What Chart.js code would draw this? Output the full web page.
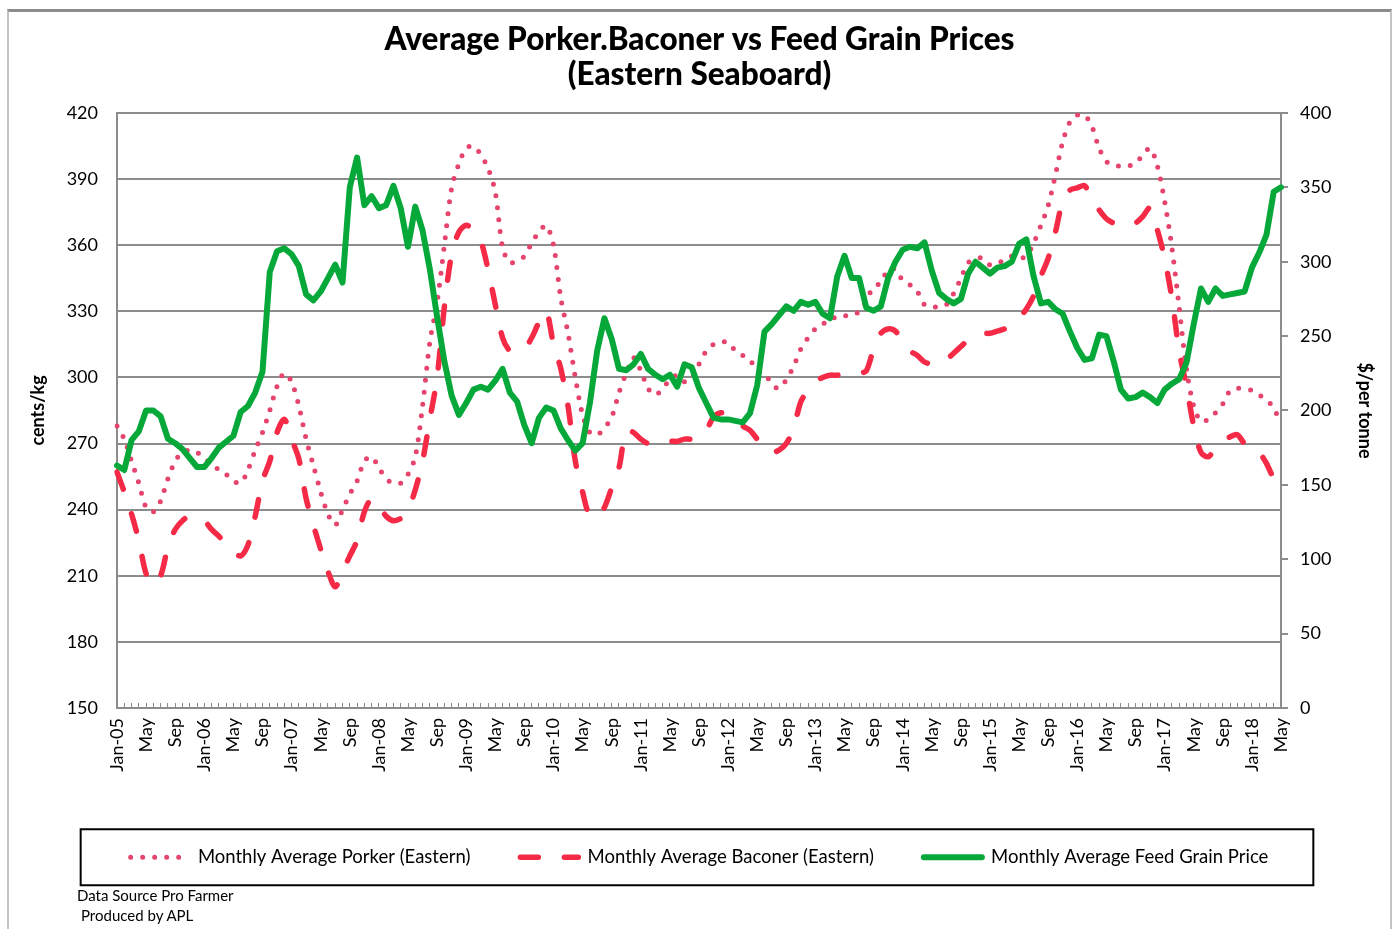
<!DOCTYPE html>
<html>
<head>
<meta charset="utf-8">
<title>Average Porker.Baconer vs Feed Grain Prices</title>
<script src="https://cdn.jsdelivr.net/npm/chart.js@4.4.1/dist/chart.umd.min.js"></script>
<style>
  html,body{margin:0;padding:0;background:#fff;overflow:hidden;}
  #frame{position:absolute;left:7px;top:9px;width:1385px;height:940px;box-sizing:border-box;
    border-top:3px solid #8c8c8c;border-left:2px solid #c4c4c4;border-right:2px solid #c4c4c4;}
  #wrap{position:absolute;left:0;top:0;width:1399px;height:929px;}
  .note{position:absolute;font:15px Lato,"DejaVu Sans",sans-serif;color:#000;white-space:pre;}
</style>
</head>
<body>
<div id="frame"></div>
<div id="wrap"><canvas id="chart"></canvas></div>
<div class="note" style="left:77px;top:886px">Data Source Pro Farmer</div>
<div class="note" style="left:81px;top:906px">Produced by APL</div>
<script>
/* categories: Jan-05 .. May-18 */
const MONTHS = ["Jan","Feb","Mar","Apr","May","Jun","Jul","Aug","Sep","Oct","Nov","Dec"];
const YEARS = ["05","06","07","08","09","10","11","12","13","14","15","16","17","18"];
const LAST_MONTH = 4; // May in the last year
const LABEL_EVERY = 4;

/* cents/kg */
const porker = [
  278,272,262,252,241,239,244,254,262,266,267,266, // 2005
  263,261,258,256,253,252,258,267,275,285,296,302, // 2006
  298,287,272,260,248,238,233,240,247,253,262,264, // 2007
  259,254,252,252,256,264,287,316,334,360,386,397, // 2008
  404,405,401,395,384,359,352,353,355,361,366,369, // 2009
  360,336,320,300,283,275,274,277,282,293,302,309, // 2010
  303,295,292,295,299,301,298,300,306,312,315,316, // 2011
  316,312,310,308,303,302,297,295,299,305,313,318, // 2012
  322,324,327,327,328,328,330,335,341,343,349,349, // 2013
  344,342,339,333,332,332,333,338,345,352,354,354, // 2014
  351,352,353,355,354,355,361,369,378,392,407,416, // 2015
  419,419,414,404,398,396,396,396,397,401,404,396, // 2016
  380,359,332,304,287,280,281,284,288,294,295,295, // 2017
  294,292,290,286,279                              // 2018
];
const baconer = [
  257,248,238,226,211,206,210,223,231,235,237,236,
  235,231,228,224,221,219,224,237,253,262,275,281,
  272,263,245,233,222,212,205,212,219,226,239,245,
  242,237,235,236,240,249,262,281,300,332,356,366,
  369,367,362,349,333,318,312,312,313,318,325,330,
  315,304,287,262,248,237,237,241,250,259,276,275,
  272,270,270,270,271,271,272,272,273,276,282,284,
  283,281,278,276,272,268,266,267,270,277,289,294,
  298,300,301,301,302,302,302,303,313,320,322,321,
  316,312,310,307,306,306,308,311,314,317,319,320,
  320,321,322,324,327,331,337,346,354,366,380,385,
  386,387,381,376,372,370,369,369,370,373,377,367,
  354,336,312,296,278,266,264,268,271,273,274,270,
  269,266,261,254,249
];
/* $/per tonne */
const feedGrain = [
  163,160,180,186,200,200,196,181,178,174,168,162,
  162,168,175,179,183,199,203,212,226,293,307,309,
  305,297,278,274,280,289,298,286,350,370,338,344,
  336,338,351,336,310,337,321,295,263,233,210,197,
  205,214,216,214,220,228,212,206,190,178,195,202,
  200,188,180,173,178,205,240,262,248,228,227,231,
  238,228,224,221,224,216,231,229,215,205,195,194,
  194,193,192,198,217,253,258,264,270,267,273,271,
  273,265,262,290,304,289,289,269,267,270,289,300,
  308,310,309,313,294,279,275,272,275,292,300,296,
  292,296,297,300,312,315,290,272,273,268,265,253,
  242,234,235,251,250,233,214,208,209,212,209,205,
  214,218,221,232,258,282,273,282,277,278,279,280,
  296,306,318,347,350
];

const LEFT_MIN = 150, LEFT_MAX = 420, LEFT_STEP = 30;
const RIGHT_MIN = 0, RIGHT_MAX = 400, RIGHT_STEP = 50;

const labels = [];
YEARS.forEach((y, yi) => {
  MONTHS.forEach((m, mi) => {
    if (yi === YEARS.length - 1 && mi > LAST_MONTH) return;
    labels.push(mi === 0 ? `${m}-${y}` : m);
  });
});

Chart.defaults.font.family = "Lato, 'DejaVu Sans', sans-serif";
Chart.defaults.color = "#000";
const GRID = "#8c8c8c";

/* box round the legend */
const legendFrame = {
  id: "legendFrame",
  afterDraw(chart){
    const boxes = chart.legend && chart.legend.legendHitBoxes;
    if (!boxes || !boxes.length) return;
    const l = Math.min(...boxes.map(b => b.left));
    const r = Math.max(...boxes.map(b => b.left + b.width));
    const cy = boxes[0].top + boxes[0].height / 2;
    const ctx = chart.ctx;
    ctx.save();
    ctx.strokeStyle = "#000";
    ctx.lineWidth = 2;
    ctx.strokeRect(l - 50, cy - 28, r - l + 95, 56);
    ctx.restore();
  }
};

new Chart(document.getElementById("chart"), {
  type: "line",
  data: {
    labels,
    datasets: [
      {
        label: "Monthly Average Porker (Eastern)",
        data: porker, yAxisID: "y",
        borderColor: "#e5446d", borderWidth: 5,
        borderDash: [0, 12], borderCapStyle: "round",
        tension: 0.3, pointRadius: 0, order: 2
      },
      {
        label: "Monthly Average Baconer (Eastern)",
        data: baconer, yAxisID: "y",
        borderColor: "#f42a46", borderWidth: 5.5,
        borderDash: [18, 26], borderCapStyle: "round",
        tension: 0.3, pointRadius: 0, order: 1
      },
      {
        label: "Monthly Average Feed Grain Price",
        data: feedGrain, yAxisID: "y1",
        borderColor: "#07a83a", borderWidth: 6,
        borderCapStyle: "round", borderJoinStyle: "round",
        tension: 0, pointRadius: 0, order: 0
      }
    ]
  },
  options: {
    responsive: true,
    maintainAspectRatio: false,
    animation: false,
    layout: { padding: { left: 0, right: 0, top: 0, bottom: 52.5 } },
    plugins: {
      title: {
        display: true,
        text: ["Average Porker.Baconer vs Feed Grain Prices", "(Eastern Seaboard)"],
        font: { size: 31.5, weight: "900", lineHeight: 1.11 },
        padding: { top: 22, bottom: 21 },
        color: "#000"
      },
      legend: {
        position: "bottom",
        labels: {
          usePointStyle: true,
          pointStyleWidth: 58,
          padding: 50,
          font: { size: 18.5 },
          color: "#000",
          generateLabels(chart){
            return chart.data.datasets.map((ds, i) => ({
              text: ds.label,
              fillStyle: ds.borderColor,
              strokeStyle: ds.borderColor,
              lineWidth: ds.borderWidth,
              lineDash: ds.borderDash || [],
              lineCap: ds.borderCapStyle || "butt",
              pointStyle: "line",
              fontColor: "#000",
              hidden: false,
              datasetIndex: i
            }));
          }
        }
      },
      tooltip: { enabled: false }
    },
    scales: {
      x: {
        offset: false,
        grid: { drawOnChartArea: false, drawTicks: true, tickLength: -5, color: GRID, lineWidth: 1 },
        border: { display: true, color: GRID, width: 2 },
        ticks: {
          autoSkip: false, maxRotation: 90, minRotation: 90, padding: 15,
          font: { size: 18 },
          callback(v, i){ return i % LABEL_EVERY === 0 ? this.getLabelForValue(v) : ""; }
        },
        afterFit(s){ s.height = 90; }
      },
      y: {
        position: "left",
        min: LEFT_MIN, max: LEFT_MAX,
        ticks: { stepSize: LEFT_STEP, padding: 19, font: { size: 18 } },
        grid: { color: GRID, lineWidth: 2, drawTicks: false },
        border: { display: true, color: GRID, width: 2 },
        title: { display: true, text: "cents/kg", font: { size: 18, weight: "bold" }, padding: { top: 27, bottom: 0 } },
        afterFit(s){ s.width = 117; }
      },
      y1: {
        position: "right",
        min: RIGHT_MIN, max: RIGHT_MAX,
        ticks: { stepSize: RIGHT_STEP, padding: 12, font: { size: 18 } },
        grid: { drawOnChartArea: false, drawTicks: true, tickLength: 7, color: GRID, lineWidth: 2 },
        border: { display: true, color: GRID, width: 2 },
        title: { display: true, text: "$/per tonne", font: { size: 18, weight: "bold" }, padding: { top: 23, bottom: 0 } },
        afterFit(s){ s.width = 118; }
      }
    }
  },
  plugins: [legendFrame]
});
</script>
</body>
</html>
